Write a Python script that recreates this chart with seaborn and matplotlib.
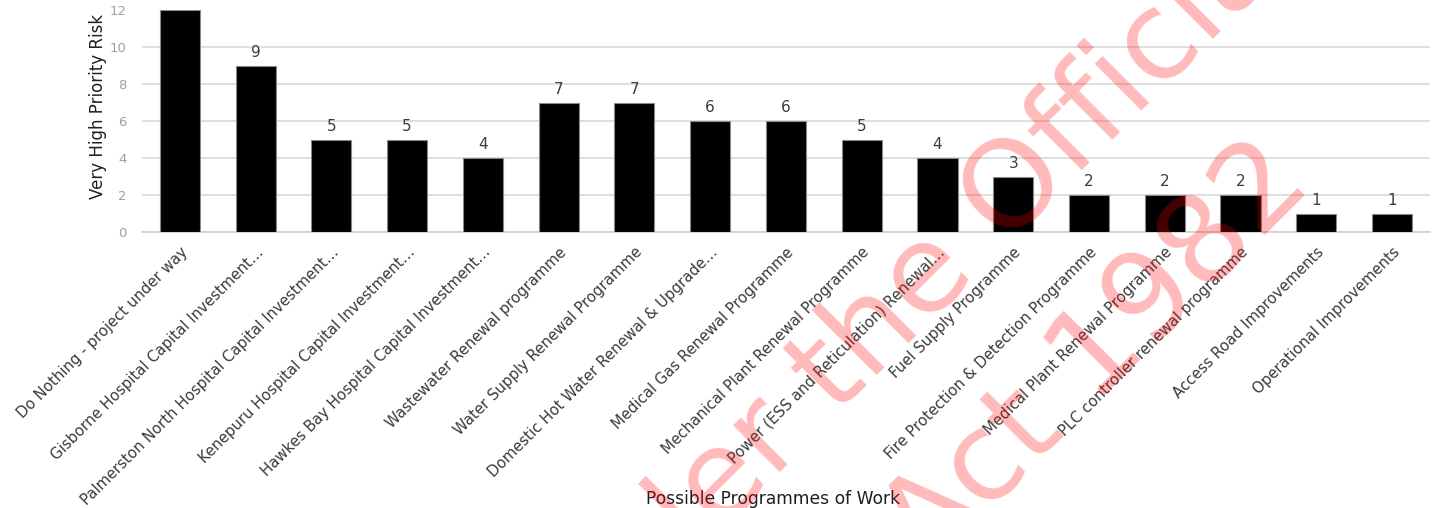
import matplotlib
matplotlib.use("Agg")
import matplotlib.pyplot as plt
import numpy as np
import pandas as pd
import seaborn as sns

#%% Data
programmes = [
    'Do Nothing - project under way',
    'Gisborne Hospital Capital Investment…',
    'Palmerston North Hospital Capital Investment…',
    'Kenepuru Hospital Capital Investment…',
    'Hawkes Bay Hospital Capital Investment…',
    'Wastewater Renewal programme',
    'Water Supply Renewal Programme',
    'Domestic Hot Water Renewal & Upgrade…',
    'Medical Gas Renewal Programme',
    'Mechanical Plant Renewal Programme',
    'Power (ESS and Reticulation) Renewal…',
    'Fuel Supply Programme',
    'Fire Protection & Detection Programme',
    'Medical Plant Renewal Programme',
    'PLC controller renewal programme',
    'Access Road Improvements',
    'Operational Improvements',
]
risk_counts = [12, 9, 5, 5, 4, 7, 7, 6, 6, 5, 4, 3, 2, 2, 2, 1, 1]
y_ticks = [0, 2, 4, 6, 8, 10, 12]

data = pd.DataFrame({'programme': programmes, 'risks': risk_counts})

#%% Figure
sns.set_style("white")
plt.rcParams['font.family'] = ['DejaVu Sans']

fig = plt.figure(figsize=(14.38, 5.08), dpi=100)
ax = fig.add_axes([0.0987, 0.5433, 0.8957, 0.437])

sns.barplot(data=data, x='programme', y='risks', color='black', saturation=1,
            width=0.53, edgecolor='#8a8a8a', linewidth=0.8, ax=ax, zorder=3)

# value labels on top of bars (the top one falls outside the cropped chart)
labels = ax.bar_label(ax.containers[0], padding=4, fontsize=11, color='#3c3c3c')
for t, v in zip(labels, risk_counts):
    if v >= y_ticks[-1]:
        t.set_visible(False)

ax.set_ylim(0, 12)
ax.set_yticks(y_ticks)
ax.set_xlim(-0.5, len(programmes) - 0.5)
ax.grid(axis='y', color='#dcdcdc', linewidth=1.3, zorder=0)
ax.yaxis.get_gridlines()[-1].set_visible(False)

for side in ['top', 'right', 'left']:
    ax.spines[side].set_visible(False)
ax.spines['bottom'].set_color('#d0d0d0')
ax.spines['bottom'].set_linewidth(1.2)

# small ticks between the categories
ax.set_xticks(np.arange(-0.5, len(programmes)), minor=True)
ax.tick_params(axis='x', which='minor', length=4, color='#d0d0d0', width=1)
ax.tick_params(axis='x', which='major', length=0, pad=9)
ax.tick_params(axis='y', length=0, pad=11, labelsize=9.5, labelcolor='#a0a0a0')

ax.set_xticks(range(len(programmes)))
ax.set_xticklabels(programmes, rotation=45, ha='right', rotation_mode='anchor',
                   fontsize=10.7, color='#3a3a3a')

ax.set_xlabel('Possible Programmes of Work', fontsize=12.3, color='#202020')
ax.set_ylabel('Very High Priority Risk', fontsize=12, color='#202020')
ax.yaxis.set_label_coords(-0.027, 0.567)
ax.xaxis.set_label_coords(0.49, -1.16)

# release watermark over the chart
wm = dict(rotation=45, rotation_mode='anchor', color='red', alpha=0.27,
          fontsize=88, ha='right', va='center', zorder=10)
fig.text(0.892, 1.154, 'Released under the Official', **wm)
fig.text(0.897, 0.68, 'Information Act 1982', **wm)

fig.savefig('out.png', dpi=100)
